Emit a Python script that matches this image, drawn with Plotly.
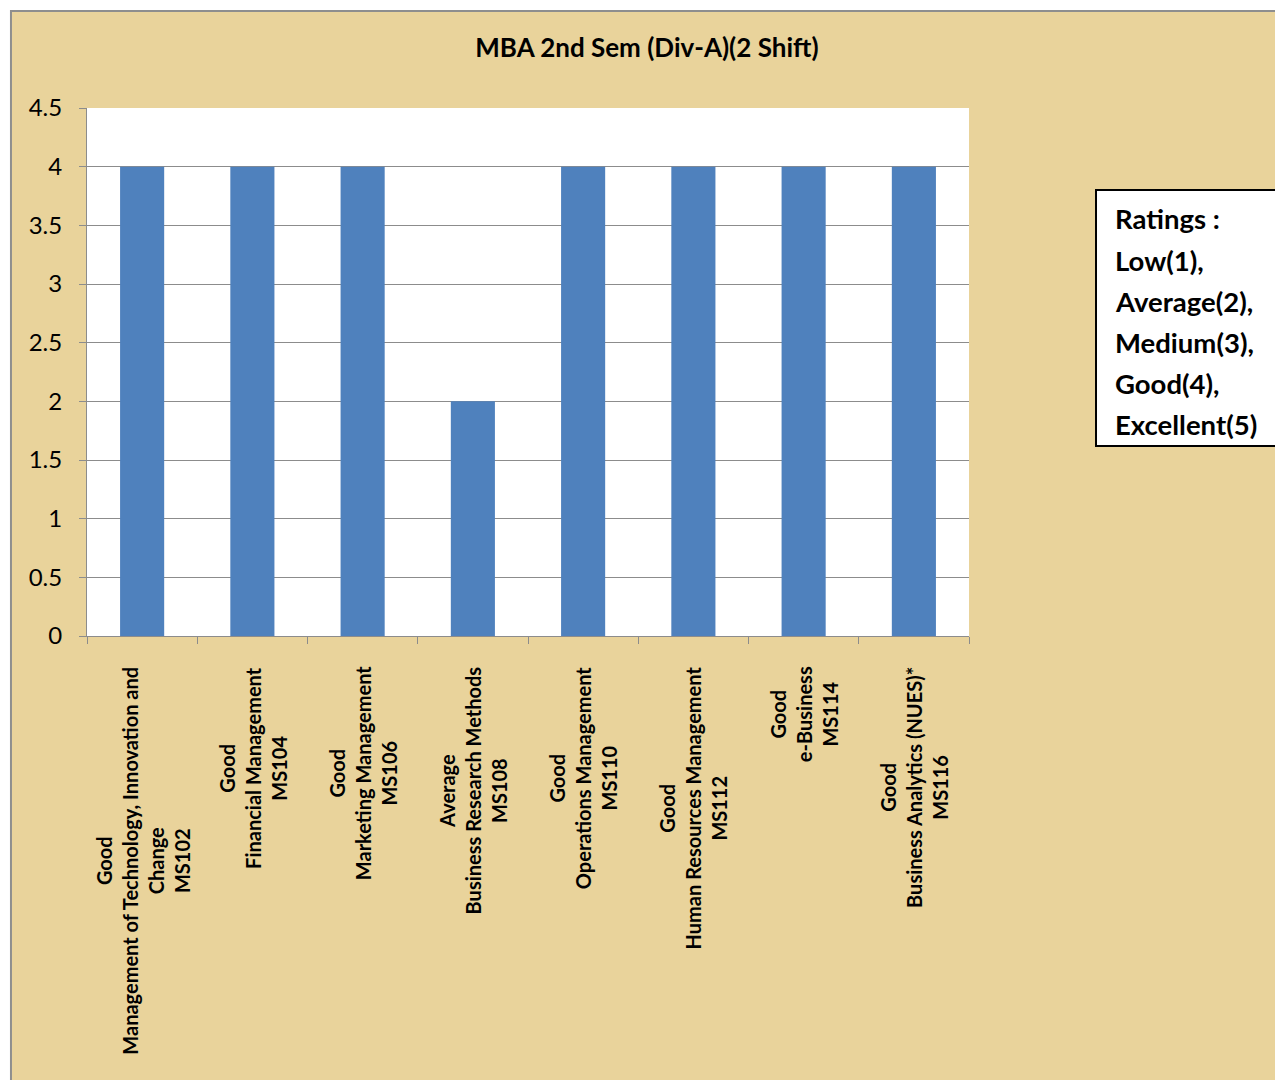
import plotly.graph_objects as go

# data
ratings = ["Good", "Good", "Good", "Average", "Good", "Good", "Good", "Good"]
subjects = ["Management of Technology, Innovation and<br>Change",
            "Financial Management",
            "Marketing Management",
            "Business Research Methods",
            "Operations Management",
            "Human Resources Management",
            "e-Business",
            "Business Analytics (NUES)*"]
codes = ["MS102", "MS104", "MS106", "MS108", "MS110", "MS112", "MS114", "MS116"]
scores = [4, 4, 4, 2, 4, 4, 4, 4]
legend_lines = ["Ratings :", "Low(1),", "Average(2),", "Medium(3),", "Good(4),", "Excellent(5)"]

tan = "#E9D39B"
grid = "#8C8C8C"
font = "Lato"

fig = go.Figure()
fig.add_trace(go.Bar(x=codes, y=scores, marker_color="#4F81BD",
                     marker_line_width=0, width=0.4))

# rotated multi-line category labels, centred lines like the original
for r, s, c in zip(ratings, subjects, codes):
    fig.add_annotation(x=c, xref="x", y=-0.054, yref="paper",
                       text=f"<b>{r}<br>{s}<br>{c}</b>", textangle=-90,
                       xanchor="center", yanchor="top", align="center",
                       showarrow=False, font=dict(family=font, size=20, color="black"))

# ratings box on the right
fig.add_shape(type="rect", xref="paper", yref="paper",
              x0=1.1440, x1=1.5, y0=0.3598, y1=0.8447,
              fillcolor="white", line=dict(color="black", width=2), layer="above")
for i, t in enumerate(legend_lines):
    fig.add_annotation(x=1.1635, xref="paper", y=0.7898 - i * 0.0777, yref="paper",
                       text=f"<b>{t}</b>", xanchor="left", yanchor="middle",
                       showarrow=False, font=dict(family=font, size=27.5, color="black"))

# outer chart frame: white page margin top/left and grey border
fig.add_shape(type="rect", xref="paper", yref="paper", x0=-0.2, x1=1.5, y0=1.1837, y1=1.3,
              fillcolor="white", line_width=0, layer="above")
fig.add_shape(type="rect", xref="paper", yref="paper", x0=-0.2, x1=-0.0862, y0=-0.9, y1=1.3,
              fillcolor="white", line_width=0, layer="above")
fig.add_shape(type="rect", xref="paper", yref="paper", x0=-0.0862, x1=1.6, y0=-0.9, y1=1.1837,
              fillcolor="rgba(0,0,0,0)", line=dict(color="#8E8E8E", width=2), layer="above")

fig.update_layout(
    width=1283, height=1080,
    margin=dict(l=79, r=322, t=100, b=452, autoexpand=False),
    paper_bgcolor=tan, plot_bgcolor="white",
    showlegend=False,
    title=dict(text="<b>MBA 2nd Sem (Div-A)(2 Shift)</b>", x=0.498, xref="container",
               xanchor="center", y=1 - 40 / 1080, yref="container", yanchor="middle",
               font=dict(family=font, size=26, color="black")),
    font=dict(family=font, color="black"),
)
fig.update_xaxes(showticklabels=False, tickson="boundaries", ticks="outside",
                 ticklen=7, tickcolor=grid, showline=True, linecolor=grid, linewidth=1,
                 showgrid=False, automargin=False)
fig.update_yaxes(range=[0, 4.5], dtick=0.5, ticks="outside", ticklen=7,
                 tickcolor=grid, showline=True, linecolor=grid, linewidth=1,
                 gridcolor=grid, gridwidth=1, zeroline=False, automargin=False,
                 ticklabelstandoff=12,
                 tickfont=dict(family=font, size=24, color="black"))

fig.write_html("out.html")
